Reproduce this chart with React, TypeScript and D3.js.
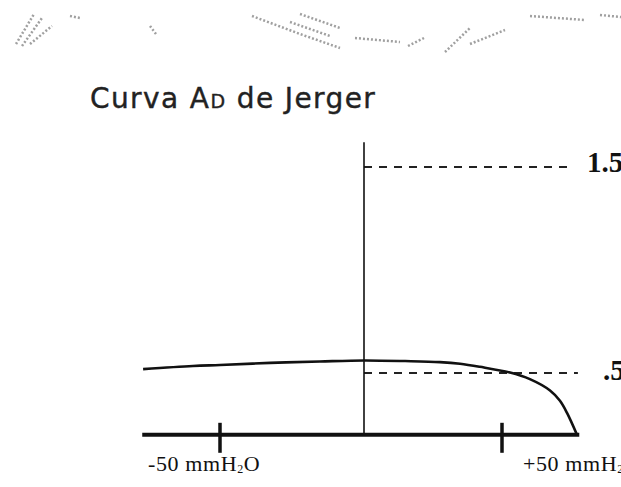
import React, { useRef, useEffect } from "react";
import * as d3 from "d3";

// tympanogram, type AD (Jerger)
const curvePressure = [-76.7, -59.4, -50, -32.6, -15.3, 0, 14.9, 27.5, 34.8, 42, 52.9, 60.1, 67.4, 71, 73.6, 77.2];
const curveCompliance = [0.519, 0.534, 0.539, 0.549, 0.556, 0.561, 0.558, 0.553, 0.545, 0.53, 0.502, 0.47, 0.415, 0.365, 0.305, 0.199];

const pressureTicks = [-50, 50];
const pressureTickLabels = ["-50 mmH", "+50 mmH"];
const pressureExtent = [-77, 78];

const refValues = [1.5, 0.5];
const refLabels = ["1.5", ".5"];
const refEnds = [75.7, 77.5];

const complianceExtent = [0.2, 1.62];

// scan specks along the top edge
const specks: [number, number][][] = [
  [[16, 44], [34, 14]],
  [[22, 46], [42, 18]],
  [[30, 44], [52, 26]],
  [[70, 16], [80, 18]],
  [[150, 26], [156, 34]],
  [[252, 16], [300, 34], [340, 48]],
  [[290, 22], [330, 36]],
  [[300, 14], [340, 28]],
  [[355, 38], [400, 42]],
  [[408, 46], [424, 38]],
  [[445, 52], [470, 28]],
  [[470, 44], [505, 30]],
  [[530, 16], [585, 20]],
  [[600, 15], [621, 17]],
];

const App: React.FC = () => {
  const svgRef = useRef<SVGSVGElement | null>(null);

  useEffect(() => {
    if (!svgRef.current) return;
    const svg = d3.select(svgRef.current);
    svg.selectAll("*").remove();

    const x = d3.scaleLinear().domain([-50, 0, 50]).range([220, 364, 502]);
    const y = d3.scaleLinear().domain([0.5, 1.5]).range([373, 167]);
    const ink = "#111";

    // scan noise
    svg
      .append("g")
      .selectAll("path")
      .data(specks)
      .enter()
      .append("path")
      .attr("d", (d) => d3.line()(d) as string)
      .attr("fill", "none")
      .attr("stroke", "#a0a0a0")
      .attr("stroke-width", 2.5)
      .attr("stroke-dasharray", "2 2");

    // title
    const t = svg
      .append("text")
      .attr("x", 90)
      .attr("y", 108)
      .attr("font-family", "DejaVu Sans, Verdana, sans-serif")
      .attr("font-size", 28)
      .attr("letter-spacing", 1.4)
      .attr("fill", "#222")
      .attr("stroke", "#222")
      .attr("stroke-width", 0.4);
    t.append("tspan").text("Curva A");
    t.append("tspan").attr("font-size", 19).text("D");
    t.append("tspan").text(" de Jerger");

    // reference dashed lines
    refValues.forEach((v, i) => {
      svg
        .append("line")
        .attr("x1", x(0))
        .attr("x2", x(refEnds[i]))
        .attr("y1", y(v))
        .attr("y2", y(v))
        .attr("stroke", "#222")
        .attr("stroke-width", 2)
        .attr("stroke-dasharray", "8 7");
      svg
        .append("text")
        .attr("x", x(refEnds[i]) + (i === 0 ? 14 : 25))
        .attr("y", y(v) + (i === 0 ? 5 : 7))
        .attr("font-family", "Liberation Serif, Times New Roman, serif")
        .attr("font-weight", "bold")
        .attr("font-size", 29)
        .attr("fill", ink)
        .text(refLabels[i]);
    });

    // vertical axis
    svg
      .append("line")
      .attr("x1", x(0))
      .attr("x2", x(0))
      .attr("y1", y(complianceExtent[1]))
      .attr("y2", y(complianceExtent[0]))
      .attr("stroke", ink)
      .attr("stroke-width", 1.6);

    // horizontal axis
    const y0 = y(complianceExtent[0]);
    svg
      .append("line")
      .attr("x1", x(pressureExtent[0]))
      .attr("x2", x(pressureExtent[1]))
      .attr("y1", y0)
      .attr("y2", y0)
      .attr("stroke", ink)
      .attr("stroke-width", 4);

    pressureTicks.forEach((p, i) => {
      svg
        .append("line")
        .attr("x1", x(p))
        .attr("x2", x(p))
        .attr("y1", y0 - 12)
        .attr("y2", y0 + 18)
        .attr("stroke", ink)
        .attr("stroke-width", 3.5);
      const lbl = svg
        .append("text")
        .attr("x", x(p) + (i === 0 ? -72 : 21))
        .attr("y", y0 + 36)
        .attr("font-family", "Liberation Serif, Times New Roman, serif")
        .attr("font-size", 22)
        .attr("letter-spacing", 0.6)
        .attr("fill", ink);
      lbl.append("tspan").text(pressureTickLabels[i]);
      lbl.append("tspan").attr("font-size", 12).attr("dy", 2).text("2");
      lbl.append("tspan").attr("dy", -2).text("O");
    });

    // curve
    const pts = curvePressure.map((p, i) => [p, curveCompliance[i]] as [number, number]);
    const line = d3
      .line<[number, number]>()
      .x((d) => x(d[0]))
      .y((d) => y(d[1]))
      .curve(d3.curveCatmullRom.alpha(0.5));
    svg
      .append("path")
      .datum(pts)
      .attr("d", line)
      .attr("fill", "none")
      .attr("stroke", ink)
      .attr("stroke-width", 2.6);
  }, []);

  return (
    <svg
      ref={svgRef}
      width={621}
      height={487}
      style={{ position: "absolute", left: 0, top: 0, background: "#fff" }}
    />
  );
};

export default App;
